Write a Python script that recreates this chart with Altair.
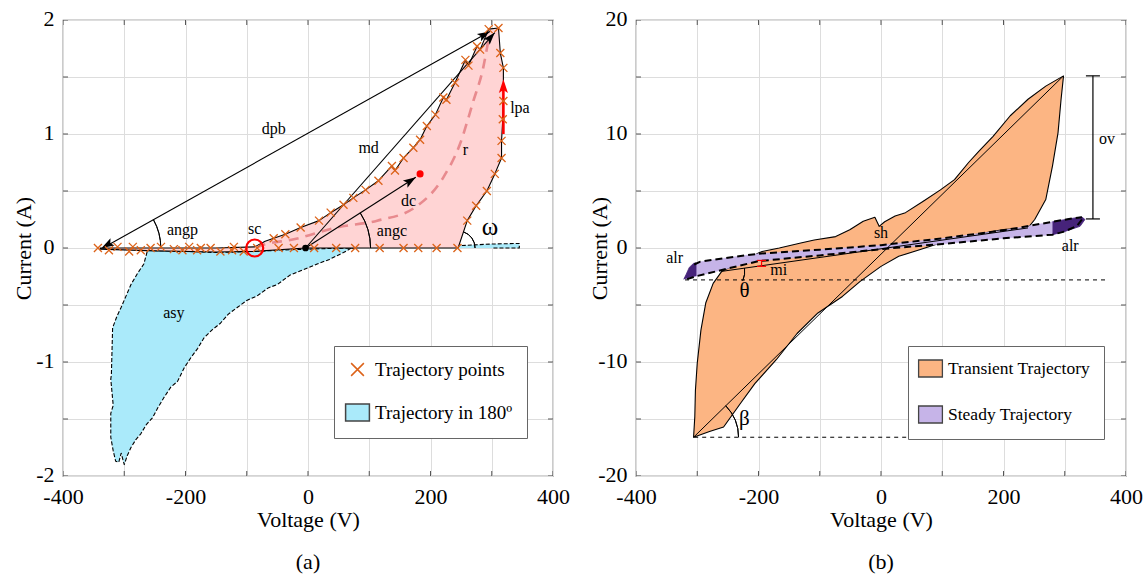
import math
import altair as alt
import pandas as pd

FONT = "Liberation Serif, Times New Roman, DejaVu Serif, serif"
W, H = 490, 456

# ---------------- panel (a) data ----------------
pink_x = [-340, -250, -150, -87, -70, -56, -37, -12, 18, 37, 58, 74, 94, 115, 137, 142, 156, 172, 183, 194,
          208, 221, 226, 240, 257, 262, 276, 281, 295, 311, 314, 319, 319, 318, 316, 316, 305, 292, 274.5, 260,
          245, 150, 50, -4, -87, -150, -250, -340]
pink_y = [0.0, 0.0, 0.0, 0.01, 0.06, 0.085, 0.12, 0.18, 0.24, 0.31, 0.38, 0.44, 0.51, 0.59, 0.72, 0.68, 0.79, 0.88, 0.95, 1.07,
          1.17, 1.32, 1.30, 1.45, 1.65, 1.60, 1.77, 1.74, 1.92, 1.93, 1.71, 1.58, 1.29, 1.13, 0.94, 0.79, 0.65, 0.50, 0.37, 0.24,
          0.0, 0.0, 0.0, 0.0, -0.03, -0.035, -0.025, -0.01]

tp_x = [-343, -325, -311, -292, -286, -273, -257, -240, -219, -205, -194, -181, -175, -159, -143, -124, -121, -105, -83, -56,
        -37, -12, 18, 37, 58, 74, 94, 115, 137, 142, 156, 172, 183, 194, 208, 221, 226, 240, 257, 262,
        276, 281, 295, 311, 314, 319, 319, 318, 316, 316, 305, 292, 274.5, 260, 244, 210, 180, 156, 117, 77,
        46, 10, -23, -48]
tp_y = [0.0, -0.02, 0.01, -0.03, 0.01, -0.02, 0.0, 0.01, -0.01, -0.02, 0.01, -0.02, 0.0, 0.0, -0.03, -0.02, 0.01, -0.03, 0.0, 0.085,
        0.12, 0.18, 0.24, 0.31, 0.38, 0.44, 0.51, 0.59, 0.72, 0.68, 0.79, 0.88, 0.95, 1.07, 1.17, 1.32, 1.30, 1.45, 1.65, 1.60,
        1.77, 1.74, 1.92, 1.93, 1.71, 1.58, 1.29, 1.13, 0.94, 0.79, 0.65, 0.50, 0.37, 0.24, 0.0, 0.0, 0.0, 0.0, 0.0, 0.0,
        0.0, 0.0, 0.0, 0.0]

cy_x = [-262, -200, -150, -87, -30, 30, 80, 74, 58, 35, 15, -12, -30, -50, -65, -83, -100, -115, -130, -143,
        -157, -170, -180, -191, -202, -213, -224, -235, -245, -254, -264, -273, -281, -289, -295, -300, -305, -309, -314, -318,
        -322, -322, -318, -322, -321, -319, -312, -305, -297, -289, -278, -268, -262]
cy_y = [-0.02, -0.03, -0.04, -0.03, -0.015, -0.005, 0.0, 0.01, -0.04, -0.10, -0.14, -0.20, -0.24, -0.32, -0.35, -0.42, -0.46, -0.52, -0.58, -0.66,
        -0.72, -0.79, -0.88, -0.96, -1.05, -1.17, -1.22, -1.31, -1.40, -1.49, -1.55, -1.63, -1.68, -1.75, -1.82, -1.90, -1.80, -1.88, -1.87, -1.78,
        -1.66, -1.45, -1.38, -1.15, -1.11, -0.70, -0.60, -0.52, -0.42, -0.32, -0.22, -0.14, -0.02]

cs_x = [245, 245, 300, 345, 345, 300]
cs_y = [0.0, 0.02, 0.035, 0.04, 0.0, 0.0]

r_x = [-85, -77, -23, 47, 113, 173, 221, 248, 270, 286, 295]
r_y = [0.0, 0.02, 0.076, 0.18, 0.24, 0.35, 0.62, 0.91, 1.29, 1.58, 1.84]

# segments (a): x, y -> x2, y2
seg_a_name = ["dpb", "md", "dc"]
seg_a_x = [-335, -4, -4]
seg_a_y = [0.0, 0.0, 0.0]
seg_a_x2 = [297, 305, 176]
seg_a_y2 = [1.90, 1.89, 0.62]
lpa_x, lpa_y0, lpa_y1 = 319, 1.0, 1.44

lab_a_text = ["dpb", "md", "r", "lpa", "dc", "angp", "sc", "angc", "asy"]
lab_a_x = [-56, 99, 257, 346, 164, -205, -87, 137, -219]
lab_a_y = [1.04, 0.88, 0.86, 1.23, 0.41, 0.16, 0.17, 0.15, -0.57]

legend_a = ["Trajectory points", "Trajectory in 180º"]

# ---------------- panel (b) data ----------------
tr_x = [298, 269, 240, 211, 183, 160, 143, 120, 97, 69, 40, 23, 6, -3, -10, -29, -51, -74, -109, -131,
        -166, -194, -200, -230, -260, -274, -286, -294, -300, -303, -304, -306, -280, -257, -229, -206, -171, -137, -103, -63,
        -34, 0, 29, 63, 97, 154, 200, 240, 251, 269, 280, 289, 294, 298]
tr_y = [15.1, 14.2, 13.05, 11.6, 9.8, 8.5, 7.5, 6.0, 5.1, 4.1, 3.1, 2.8, 2.3, 1.9, 2.7, 2.35, 1.6, 1.0, 0.7, 0.44,
        0.0, -0.3, -0.44, -1.3, -2.05, -3.1, -4.8, -7.2, -10.1, -12.5, -14.8, -16.6, -16.1, -15.7, -13.6, -11.9, -9.8, -7.5, -5.7, -4.25,
        -2.93, -1.61, -0.73, -0.15, 0.44, 1.17, 1.61, 1.76, 2.5, 4.25, 7.2, 10.1, 13.05, 15.1]

su_x = [-305, -295, -250, -200, -100, 0, 100, 200, 280, 315, 328]
su_y = [-1.45, -1.2, -0.85, -0.5, -0.15, 0.25, 0.85, 1.55, 2.3, 2.62, 2.7]
sl_x = [328, 320, 300, 280, 200, 100, 0, -100, -200, -250, -300, -318, -322]
sl_y = [2.5, 1.95, 1.45, 1.17, 0.85, 0.35, -0.1, -0.65, -1.15, -1.8, -2.45, -2.75, -2.7]

dl_x = [-322, -318, -313, -306, -302, -302]
dl_y = [-2.75, -2.3, -1.7, -1.35, -1.3, -2.45]
dr_x = [280, 315, 328, 333, 325, 300, 280]
dr_y = [2.3, 2.62, 2.72, 2.5, 1.9, 1.45, 1.17]

seg_b_x = [-260, -306]
seg_b_y = [-2.05, -16.6]
seg_b_x2 = [240, 298]
seg_b_y2 = [1.76, 15.1]
hd_x = [-320, -305]
hd_y = [-2.8, -16.6]
hd_x2 = [366, 354]
ov_x, ov_y0, ov_y1 = 346, 2.55, 15.1
mi_x, mi_y0, mi_y1 = -195, -1.61, -1.09

lab_b_text = ["alr", "alr", "sh", "ov", "mi"]
lab_b_x = [-337, 309, 0, 369, -167]
lab_b_y = [-0.88, 0.15, 1.32, 9.53, -1.95]

legend_b = ["Transient Trajectory", "Steady Trajectory"]

# tick positions (axes)
x_ticks = list(range(-400, 401, 100))
y_ticks_a = [v / 2 for v in range(-4, 5)]
y_ticks_b = list(range(-20, 21, 5))

# ---------------- styles ----------------
PINK = "#FFD4D4"
CYAN = "#AAEAFA"
ORANGE_MK = "#DC6218"
PEACH = "#FCB583"
LAV = "#C6B4E8"
DPURP = "#46237A"
CROSS = "M-1,-1L1,1M1,-1L-1,1"
CROSS_L = "M-0.75,-0.75L0.75,0.75M0.75,-0.75L-0.75,0.75"
RECT = "M-1.4,-1L1.4,-1L1.4,1L-1.4,1Z"
DART = "M0,0L-0.8,2.4L0,1.9L0.8,2.4Z"


def ang(x0, y0, x1, y1, sx, sy):
    return math.degrees(math.atan2((x1 - x0) * sx, (y1 - y0) * sy)) % 360


def axis_x():
    return alt.Axis(values=x_ticks,
                    labelExpr="datum.value % 200 == 0 ? '' + datum.value : ''",
                    title="Voltage (V)", grid=True, gridColor="#DDDDDD", ticks=False, domain=False,
                    labelFont=FONT, labelFontSize=22, labelColor="black", labelPadding=10,
                    labelOverlap=False, labelFlush=False,
                    titleFont=FONT, titleFontSize=22, titleFontWeight="normal", titleColor="black",
                    titlePadding=2)


def axis_y(vals, mod, tx):
    return alt.Axis(values=vals,
                    labelExpr="datum.value %% %s == 0 ? '' + datum.value : ''" % mod,
                    title="Current (A)", grid=True, gridColor="#DDDDDD", ticks=False, domain=False,
                    labelFont=FONT, labelFontSize=22, labelColor="black", labelPadding=9,
                    labelOverlap=False, labelFlush=False, labelOffset=-2,
                    titleFont=FONT, titleFontSize=22, titleFontWeight="normal", titleColor="black",
                    titleX=tx, titleY=H / 2, titleBaseline="middle", titleAngle=270)


def frame(xs, ys):
    return pd.DataFrame({"x": xs, "y": ys, "o": list(range(len(xs)))})


def build(ydom, yvals, ymod, tx):
    X = alt.X("x:Q", scale=alt.Scale(domain=[-400, 400], nice=False, zero=False), axis=axis_x())
    Y = alt.Y("y:Q", scale=alt.Scale(domain=ydom, nice=False, zero=False), axis=axis_y(yvals, ymod, tx))
    return X, Y


def inner_ticks(X, Y, yvals, ydom):
    xt = pd.DataFrame({"x": x_ticks * 2, "y": [ydom[0]] * len(x_ticks) + [ydom[1]] * len(x_ticks)})
    yt = pd.DataFrame({"x": [-400] * len(yvals) + [400] * len(yvals), "y": yvals * 2})
    return [
        alt.Chart(xt).mark_tick(orient="vertical", size=10, thickness=1, color="#555555",
                                opacity=1, clip=True).encode(x=X, y=Y),
        alt.Chart(yt).mark_tick(orient="horizontal", size=10, thickness=1, color="#555555",
                                opacity=1, clip=True).encode(x=X, y=Y),
    ]


def poly(X, Y, xs, ys, fill, stroke, sw=1.0, dash=None):
    kw = dict(fill=fill, stroke=stroke, strokeWidth=sw, strokeJoin="round")
    if dash:
        kw["strokeDash"] = dash
    return alt.Chart(frame(xs, ys)).mark_line(**kw).encode(x=X, y=Y, order=alt.Order("o:Q"))


def line(X, Y, xs, ys, color, sw=1.0, dash=None, interp=None):
    kw = dict(color=color, strokeWidth=sw)
    if dash:
        kw["strokeDash"] = dash
    if interp:
        kw["interpolate"] = interp
    return alt.Chart(frame(xs, ys)).mark_line(**kw).encode(x=X, y=Y, order=alt.Order("o:Q"))


def segs(X, Y, xs, ys, x2s, y2s, color, sw=1.0, dash=None):
    df = pd.DataFrame({"x": xs, "y": ys, "x2": x2s, "y2": y2s})
    kw = dict(color=color, strokeWidth=sw)
    if dash:
        kw["strokeDash"] = dash
    return alt.Chart(df).mark_rule(**kw).encode(x=X, y=Y, x2="x2:Q", y2="y2:Q")


def heads(X, Y, xs, ys, angles, color, size=100):
    df = pd.DataFrame({"x": xs, "y": ys, "a": angles})
    return alt.Chart(df).mark_point(shape=DART, filled=True, color=color, size=size, opacity=1,
                                    strokeWidth=0).encode(x=X, y=Y, angle=alt.Angle("a:Q", scale=None))


def arc(X, Y, cx, cy, r, a0, a1):
    df = pd.DataFrame({"x": [cx], "y": [cy]})
    return alt.Chart(df).mark_arc(fill="transparent", stroke="black", strokeWidth=1).encode(
        x=X, y=Y, theta=alt.value(math.radians(a0)), theta2=alt.value(math.radians(a1)),
        radius=alt.value(r), radius2=alt.value(r))


def labels(X, Y, texts, xs, ys, size=16, color="black"):
    df = pd.DataFrame({"x": xs, "y": ys, "t": texts})
    return alt.Chart(df).mark_text(font=FONT, fontSize=size, color=color, align="center",
                                   baseline="middle").encode(x=X, y=Y, text="t:N")


def legend_obj(**extra):
    base = dict(orient="none", legendX=271, legendY=326, title=None, labelFont=FONT,
                labelFontSize=19, labelColor="black", symbolSize=289,
                padding=16, rowPadding=21, strokeColor="#666666", fillColor="white",
                labelOffset=8, labelLimit=400)
    base.update(extra)
    return alt.Legend(**base)


# ================= panel (a) =================
sxa, sya = W / 800, H / 4
XA, YA = build([-2, 2], y_ticks_a, 1, -40)

a_dpb = ang(seg_a_x[0], seg_a_y[0], seg_a_x2[0], seg_a_y2[0], sxa, sya)
a_md = ang(seg_a_x[1], seg_a_y[1], seg_a_x2[1], seg_a_y2[1], sxa, sya)
a_dc = ang(seg_a_x[2], seg_a_y[2], seg_a_x2[2], seg_a_y2[2], sxa, sya)
a_om = ang(pink_x[40], pink_y[40], pink_x[39], pink_y[39], sxa, sya)

dfLa = pd.DataFrame({"s": legend_a, "x": [-1000, -1000], "y": [0, 0]})
LA = legend_obj(symbolStrokeWidth=1.5, padding=14)
leg_layer_a = alt.Chart(dfLa).mark_point(clip=True, opacity=1, filled=True).encode(
    x=XA, y=YA,
    shape=alt.Shape("s:N", scale=alt.Scale(domain=legend_a, range=[CROSS_L, RECT]), legend=LA),
    fill=alt.Fill("s:N", scale=alt.Scale(domain=legend_a, range=["transparent", CYAN]), legend=LA),
    stroke=alt.Stroke("s:N", scale=alt.Scale(domain=legend_a, range=[ORANGE_MK, "#444444"]), legend=LA))

panel_a = alt.layer(
    *inner_ticks(XA, YA, y_ticks_a, [-2, 2]),
    poly(XA, YA, cy_x, cy_y, CYAN, "black", 1.1, [4, 2]),
    poly(XA, YA, cs_x, cs_y, CYAN, "black", 1.1, [4, 2]),
    poly(XA, YA, pink_x, pink_y, PINK, "black", 1.1),
    line(XA, YA, r_x, r_y, "#E88A8E", 2.6, [10, 7], "monotone"),
    segs(XA, YA, seg_a_x, seg_a_y, seg_a_x2, seg_a_y2, "black", 1.1),
    segs(XA, YA, [lpa_x], [lpa_y0], [lpa_x], [lpa_y1], "#FF0000", 2.6),
    heads(XA, YA, seg_a_x2 + [seg_a_x[0] - 2], seg_a_y2 + [0.0],
          [a_dpb, a_md, a_dc, (a_dpb + 180) % 360], "black", 110),
    heads(XA, YA, [lpa_x], [lpa_y1 + 0.04], [0], "#FF0000", 130),
    arc(XA, YA, seg_a_x[0], seg_a_y[0], 58, a_dpb, 90),
    arc(XA, YA, seg_a_x[1], seg_a_y[1], 65, a_dc, 90),
    arc(XA, YA, pink_x[40], pink_y[40], 17, a_om, 90),
    alt.Chart(frame(tp_x, tp_y)).mark_point(shape=CROSS, size=64, stroke=ORANGE_MK, strokeWidth=1.3,
                                             filled=False, opacity=1).encode(x=XA, y=YA),
    alt.Chart(pd.DataFrame({"x": [-87], "y": [0.0]})).mark_point(
        shape="circle", size=290, filled=False, stroke="#FF0000", strokeWidth=2.2, opacity=1).encode(x=XA, y=YA),
    alt.Chart(pd.DataFrame({"x": [-4], "y": [0.0]})).mark_point(
        shape="circle", size=45, filled=True, color="black", opacity=1).encode(x=XA, y=YA),
    alt.Chart(pd.DataFrame({"x": [183], "y": [0.65]})).mark_point(
        shape="circle", size=50, filled=True, color="#FF0000", opacity=1).encode(x=XA, y=YA),
    labels(XA, YA, lab_a_text, lab_a_x, lab_a_y, 16),
    labels(XA, YA, ["ω"], [297], [0.18], 25),
    leg_layer_a,
).properties(width=W, height=H,
             title=alt.TitleParams("(a)", orient="bottom", anchor="middle", font=FONT, fontSize=22,
                                   fontWeight="normal", color="black", offset=22))

# ================= panel (b) =================
sxb, syb = W / 800, H / 40
XB, YB = build([-20, 20], y_ticks_b, 10, -37)

a_diag = ang(seg_b_x[1], seg_b_y[1], seg_b_x2[1], seg_b_y2[1], sxb, syb)
a_chord = ang(seg_b_x[0], seg_b_y[0], seg_b_x2[0], seg_b_y2[0], sxb, syb)

dfLb = pd.DataFrame({"s": legend_b, "x": [-1000, -1000], "y": [0, 0]})
LB = legend_obj(symbolStrokeWidth=1.3, symbolStrokeColor="#444444", labelFontSize=17.5,
                padding=13, legendX=272, rowPadding=23)
leg_layer_b = alt.Chart(dfLb).mark_point(clip=True, opacity=1, filled=True, shape=RECT,
                                         stroke="#444444").encode(
    x=XB, y=YB,
    fill=alt.Fill("s:N", scale=alt.Scale(domain=legend_b, range=[PEACH, LAV]), legend=LB))

cap_df = pd.DataFrame({"x": [ov_x, ov_x, mi_x, mi_x], "y": [ov_y0, ov_y1, mi_y0, mi_y1],
                       "c": ["k", "k", "r", "r"]})

panel_b = alt.layer(
    *inner_ticks(XB, YB, y_ticks_b, [-20, 20]),
    poly(XB, YB, tr_x, tr_y, PEACH, "black", 1.1),
    poly(XB, YB, su_x + sl_x, su_y + sl_y, LAV, LAV, 0.5),
    poly(XB, YB, dl_x, dl_y, DPURP, DPURP, 0.8),
    poly(XB, YB, dr_x, dr_y, DPURP, DPURP, 0.8),
    line(XB, YB, su_x, su_y, "black", 2.0, [7, 4]),
    line(XB, YB, sl_x, sl_y, "black", 2.0, [7, 4]),
    segs(XB, YB, seg_b_x, seg_b_y, seg_b_x2, seg_b_y2, "black", 1.0),
    segs(XB, YB, hd_x, hd_y, hd_x2, hd_y, "black", 1.0, [4, 4]),
    segs(XB, YB, [ov_x], [ov_y0], [ov_x], [ov_y1], "black", 1.2),
    segs(XB, YB, [mi_x], [mi_y0], [mi_x], [mi_y1], "#FF0000", 1.2),
    alt.Chart(cap_df[cap_df.c == "k"]).mark_tick(orient="horizontal", size=14, thickness=1.2,
                                                 color="black", opacity=1).encode(x=XB, y=YB),
    alt.Chart(cap_df[cap_df.c == "r"]).mark_tick(orient="horizontal", size=9, thickness=1.2,
                                                 color="#FF0000", opacity=1).encode(x=XB, y=YB),
    arc(XB, YB, seg_b_x[1], seg_b_y[1], 45, a_diag, 90),
    arc(XB, YB, seg_b_x[0], seg_b_y[0], 23, a_chord, 114),
    labels(XB, YB, lab_b_text, lab_b_x, lab_b_y, 16),
    labels(XB, YB, ["θ", "β"], [-223, -223], [-3.8, -15.0], 21),
    leg_layer_b,
).properties(width=W, height=H,
             title=alt.TitleParams("(b)", orient="bottom", anchor="middle", font=FONT, fontSize=22,
                                   fontWeight="normal", color="black", offset=22))

chart = alt.hconcat(panel_a, panel_b, spacing=83, bounds="flush").resolve_scale(
    x="independent", y="independent", fill="independent", stroke="independent", shape="independent"
).properties(
    padding={"left": 11, "top": 6, "right": 0, "bottom": 0},
    background="white",
).configure_view(stroke="#555555", strokeWidth=1.2)

chart.save("out.html", embed_options={"renderer": "svg", "actions": False})
